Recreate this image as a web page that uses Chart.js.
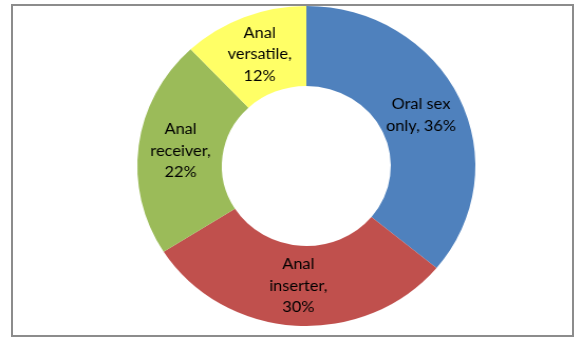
<!DOCTYPE html>
<html>
<head>
<meta charset="utf-8">
<script src="https://cdn.jsdelivr.net/npm/chart.js@4"></script>
<style>
  html, body { margin: 0; padding: 0; background: #fff; }
  #wrap { position: relative; width: 582px; height: 340px; overflow: hidden; }
  #frame {
    position: absolute; left: 11px; top: 4px;
    width: 559px; height: 329px;
    border: 2px solid #8c8c8c; background: #fff;
  }
  /* the reference donut is a bit wider than tall, so stretch the canvas */
  #chart {
    position: absolute; left: 0; top: 0;
    width: 582px !important; height: 340px !important;
  }
</style>
</head>
<body>
<div id="wrap">
  <div id="frame"></div>
  <canvas id="chart" width="551" height="340"></canvas>
</div>
<script>
// slice data, clockwise from 12 o'clock
const categories = ["Oral sex only", "Anal inserter", "Anal receiver", "Anal versatile"];
const shares = [36, 30, 22, 12];
const sliceLabels = [
  ["Oral sex", "only, 36%"],
  ["Anal", "inserter,", "30%"],
  ["Anal", "receiver,", "22%"],
  ["Anal", "versatile,", "12%"],
];
const sliceColors = ["#4f81bd", "#c0504d", "#9bbb59", "#ffff66"];

// writes the label lines in the middle of each slice
const sliceText = {
  id: "sliceText",
  afterDatasetsDraw(chart) {
    const ctx = chart.ctx;
    const arcs = chart.getDatasetMeta(0).data;
    ctx.save();
    ctx.font = "15.5px Lato";
    ctx.fillStyle = "#000";
    ctx.textAlign = "center";
    ctx.textBaseline = "middle";
    const lh = 21.5;
    arcs.forEach((arc, i) => {
      const p = arc.tooltipPosition();
      const lines = sliceLabels[i];
      const y0 = p.y - (lines.length - 1) * lh / 2;
      lines.forEach((t, j) => ctx.fillText(t, p.x, y0 + j * lh));
    });
    ctx.restore();
  }
};

var config = {
  type: "doughnut",
  data: {
    labels: categories,
    datasets: [
      {
        data: shares,
        backgroundColor: sliceColors,
        borderWidth: 0,
      },
    ],
  },
  options: {
    responsive: false,
    devicePixelRatio: 1,
    animation: false,
    cutout: "50%",
    layout: { padding: { left: 130, right: 101, top: 6, bottom: 14 } },
    plugins: {
      legend: { display: false },
      tooltip: { enabled: false },
    },
  },
  plugins: [sliceText],
};
var ctx = document.getElementById("chart").getContext("2d");
window.myDoughnut = new Chart(ctx, config);
</script>
</body>
</html>
